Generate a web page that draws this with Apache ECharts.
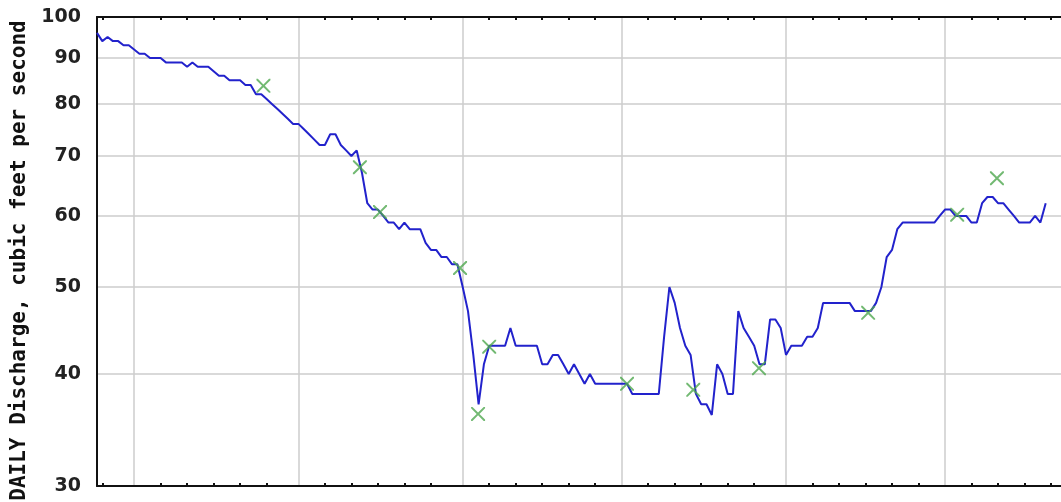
<!DOCTYPE html>
<html>
<head>
<meta charset="utf-8">
<script src="https://cdn.jsdelivr.net/npm/echarts@6/dist/echarts.min.js"></script>
<style>
html,body{margin:0;padding:0;background:#fff;}
#chart{width:1061px;height:502px;}
</style>
</head>
<body>
<div id="chart"></div>
<script>
// Daily discharge, one value per day starting at day 0
const dailyDischarge = [
  96,94,95,94,94,93,93,92,91,91,
  90,90,90,89,89,89,89,88,89,88,
  88,88,87,86,86,85,85,85,84,84,
  82,82,81,80,79,78,77,76,76,75,
  74,73,72,72,74,74,72,71,70,71,
  67,62,61,61,60,59,59,58,59,58,
  58,58,56,55,55,54,54,53,53,50,
  47,42,37,41,43,43,43,43,45,43,
  43,43,43,43,41,41,42,42,41,40,
  41,40,39,40,39,39,39,39,39,39,
  39,38,38,38,38,38,38,44,50,48,
  45,43,42,38,37,37,36,41,40,38,
  38,47,45,44,43,41,41,46,46,45,
  42,43,43,43,44,44,45,48,48,48,
  48,48,48,47,47,47,47,48,50,54,
  55,58,59,59,59,59,59,59,59,60,
  61,61,60,60,60,59,59,62,63,63,
  62,62,61,60,59,59,59,60,59,62
];
// Field measurements: day and discharge
const measDays   = [31.4, 49.6, 53.4, 68.5, 71.9, 74.0, 100.0, 112.5, 124.9, 145.5, 162.3, 169.8];
const measValues = [83.8, 68.0, 60.6, 52.5, 36.1, 42.9, 39.0, 38.4, 40.6, 46.8, 60.2, 66.1];
// Axis ticks
const yTicks = [30, 40, 50, 60, 70, 80, 90, 100];
const monthStarts = [7, 38, 69, 99, 130, 160];
const minorTicks = [1, 12, 17, 22, 27, 32, 43, 48, 53, 58, 63, 74, 79, 84, 89, 94,
  104, 109, 114, 119, 124, 135, 140, 145, 150, 155, 165, 170, 175, 180, 185];
const yTitle = 'DAILY Discharge, cubic feet per second';

const lineData = dailyDischarge.map((v, i) => [i, v]);
const measData = measDays.map((d, i) => [d, measValues[i]]);

const crossPath = 'path://M0,0L2,0L10,8L18,0L20,0L20,2L12,10L20,18L20,20L18,20L10,12L2,20L0,20L0,18L8,10L0,2Z';

const chart = echarts.init(document.getElementById('chart'), null, {renderer: 'canvas'});
const gridBox = {left: 97, top: 17, width: 1007, height: 469, containLabel: false, outerBoundsMode: 'none'};
chart.setOption({
  animation: false,
  backgroundColor: '#ffffff',
  grid: [Object.assign({}, gridBox), Object.assign({}, gridBox)],
  xAxis: [
    {
      gridIndex: 0, type: 'value', position: 'bottom', min: 0, max: 190,
      axisLine: {show: true, onZero: false, lineStyle: {color: '#111', width: 2}},
      axisTick: {show: true, inside: true, length: 3, customValues: minorTicks, lineStyle: {color: '#111', width: 2}},
      axisLabel: {show: false},
      splitLine: {show: false}
    },
    {
      gridIndex: 0, type: 'value', position: 'top', min: 0, max: 190,
      axisLine: {show: true, onZero: false, lineStyle: {color: '#111', width: 2}},
      axisTick: {show: false, customValues: monthStarts},
      axisLabel: {show: false},
      splitLine: {show: true, lineStyle: {color: '#cccccc', width: 1.5}}
    },
    {
      gridIndex: 1, type: 'value', position: 'top', min: 0, max: 190,
      axisLine: {show: false},
      axisTick: {show: true, inside: true, length: 3, customValues: minorTicks, lineStyle: {color: '#111', width: 2}},
      axisLabel: {show: false},
      splitLine: {show: false}
    }
  ],
  yAxis: [
    {
      gridIndex: 0, type: 'log', logBase: 10, min: 30, max: 100,
      name: yTitle, nameLocation: 'middle', nameRotate: 90, nameGap: 67,
      nameTextStyle: {fontFamily: 'DejaVu Sans Mono', fontWeight: 'bold', fontSize: 21, color: '#111', padding: [0, 18, 0, 0]},
      axisLine: {show: true, onZero: false, lineStyle: {color: '#111', width: 2}},
      axisTick: {show: false, customValues: yTicks},
      axisLabel: {show: true, customValues: yTicks, margin: 16, fontFamily: 'DejaVu Sans', fontWeight: 'bold', fontSize: 19, color: '#222'},
      splitLine: {show: true, lineStyle: {color: '#cccccc', width: 1.5}}
    },
    {
      gridIndex: 1, type: 'log', logBase: 10, min: 30, max: 100, show: false
    }
  ],
  series: [
    {
      type: 'line', xAxisIndex: 0, yAxisIndex: 0, data: lineData,
      showSymbol: false, symbol: 'none',
      lineStyle: {color: '#2222cc', width: 2},
      z: 3
    },
    {
      type: 'scatter', xAxisIndex: 0, yAxisIndex: 0, data: measData,
      symbol: crossPath, symbolSize: 14,
      itemStyle: {color: '#4fa84f'},
      z: 4
    }
  ]
});
</script>
</body>
</html>
